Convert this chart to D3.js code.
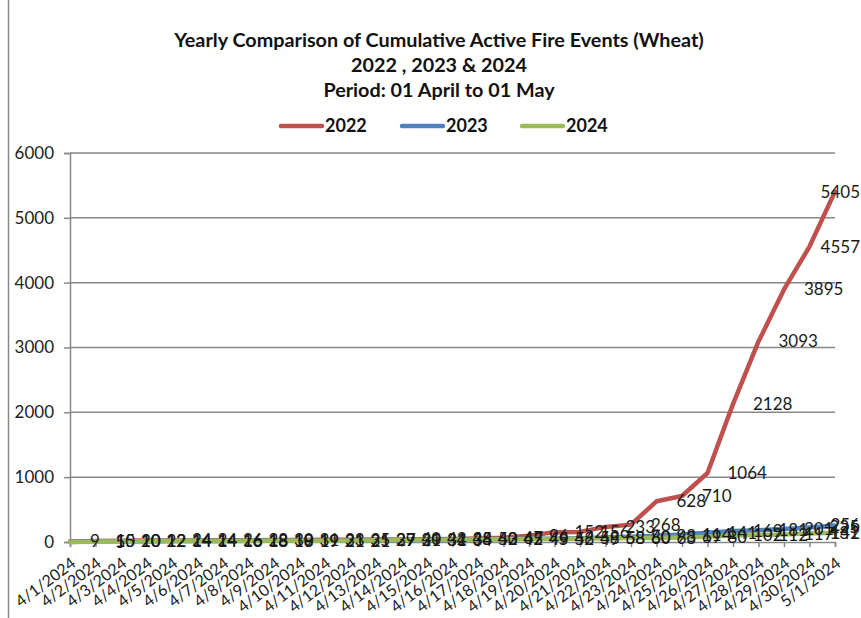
<!DOCTYPE html>
<html lang="en">
<head>
  <meta charset="UTF-8">
  <title>Cumulative Active Fire Events (Wheat)</title>
  <script src="https://d3js.org/d3.v7.min.js"></script>
  <style>
    body { margin: 0; background: #fff; }
    svg { display: block; font-family: Lato, "Open Sans", sans-serif; }
  </style>
</head>
<body>
  <svg></svg>
  <script>
    // categories
    const dates = ["4/1/2024", "4/2/2024", "4/3/2024", "4/4/2024", "4/5/2024", "4/6/2024", "4/7/2024",
      "4/8/2024", "4/9/2024", "4/10/2024", "4/11/2024", "4/12/2024", "4/13/2024", "4/14/2024",
      "4/15/2024", "4/16/2024", "4/17/2024", "4/18/2024", "4/19/2024", "4/20/2024", "4/21/2024",
      "4/22/2024", "4/23/2024", "4/24/2024", "4/25/2024", "4/26/2024", "4/27/2024", "4/28/2024",
      "4/29/2024", "4/30/2024", "5/1/2024"];

    // cumulative fire counts
    const fires2022 = [9, 15, 20, 22, 24, 24, 26, 28, 30, 31, 33, 35, 37, 40, 42, 45, 53, 67, 96,
      152, 156, 233, 268, 628, 710, 1064, 2128, 3093, 3895, 4557, 5405];
    const fires2023 = [0, 10, 10, 12, 14, 14, 16, 18, 19, 19, 21, 21, 29, 31, 34, 38, 42, 45, 49,
      52, 58, 68, 80, 98, 114, 141, 169, 181, 201, 225, 256];
    const fires2024 = [0, 5, 10, 12, 14, 14, 16, 18, 18, 19, 21, 21, 27, 29, 31, 34, 40, 42, 45,
      46, 49, 58, 60, 63, 69, 80, 102, 112, 117, 131, 142];

    const yTicks = [0, 1000, 2000, 3000, 4000, 5000, 6000];
    const seriesNames = ["2022", "2023", "2024"];
    const seriesColors = ["#C0504D", "#4F81BD", "#9BBB59"];
    const titleLines = ["Yearly Comparison of Cumulative Active Fire Events (Wheat)",
      "2022 , 2023 & 2024", "Period: 01 April to 01 May"];

    const width = 861, height = 618;
    const plot = { left: 70, right: 835, top: 153, bottom: 542 };
    const gridColor = "#888888";

    const svg = d3.select("svg")
      .attr("width", width)
      .attr("height", height);

    // chart border (left edge only is visible)
    svg.append("line")
      .attr("x1", 8.5).attr("x2", 8.5)
      .attr("y1", 0).attr("y2", height)
      .attr("stroke", gridColor).attr("stroke-width", 1.5);

    const x = d3.scalePoint()
      .domain(dates)
      .range([plot.left, plot.right]);

    const y = d3.scaleLinear()
      .domain([0, 6000])
      .range([plot.bottom, plot.top]);

    // gridlines
    svg.append("g")
      .selectAll("line")
      .data(yTicks.slice(1))
      .enter().append("line")
      .attr("x1", plot.left).attr("x2", plot.right)
      .attr("y1", d => y(d)).attr("y2", d => y(d))
      .attr("stroke", gridColor).attr("stroke-width", 1.5);

    // y axis
    const yAxis = d3.axisLeft(y)
      .tickValues(yTicks)
      .tickSize(6)
      .tickPadding(10)
      .tickFormat(d3.format("d"));

    const gy = svg.append("g")
      .attr("transform", `translate(${plot.left},0)`)
      .call(yAxis);
    gy.select(".domain").attr("stroke", gridColor).attr("stroke-width", 1.5);
    gy.selectAll(".tick line").attr("stroke", gridColor).attr("stroke-width", 1.5);
    gy.selectAll(".tick text")
      .attr("font-size", 17)
      .attr("font-family", "Lato")
      .attr("fill", "#222");

    // x axis
    const xAxis = d3.axisBottom(x).tickSize(5).tickPadding(4);
    const gx = svg.append("g")
      .attr("transform", `translate(0,${plot.bottom})`)
      .call(xAxis);
    gx.select(".domain").attr("stroke", gridColor).attr("stroke-width", 1.5);
    gx.selectAll(".tick line").attr("stroke", gridColor).attr("stroke-width", 1.5);
    gx.selectAll(".tick text")
      .attr("font-size", 16)
      .attr("font-family", "Lato")
      .attr("fill", "#222")
      .attr("text-anchor", "end")
      .attr("y", 0)
      .attr("dy", "0.35em")
      .attr("transform", "translate(3,19) rotate(-37)");

    // lines
    const series = [fires2022, fires2023, fires2024].map((vals, i) => ({
      name: seriesNames[i],
      color: seriesColors[i],
      values: vals.map((v, j) => ({ date: dates[j], v: v }))
    }));

    const line = d3.line()
      .x(d => x(d.date))
      .y(d => y(d.v));

    svg.append("g")
      .selectAll("path")
      .data(series)
      .enter().append("path")
      .attr("d", d => line(d.values))
      .attr("fill", "none")
      .attr("stroke", d => d.color)
      .attr("stroke-width", 4.5)
      .attr("stroke-linejoin", "round")
      .attr("stroke-linecap", "round");

    // data labels, to the right of each point
    const labels = svg.append("g");
    series.forEach(s => {
      s.values.filter(d => d.v > 0).forEach(d => {
        const t = labels.append("text")
          .attr("x", x(d.date) + 20)
          .attr("y", y(d.v))
          .attr("dy", "0.35em")
          .attr("font-size", 17)
          .attr("fill", "#1a1a1a")
          .text(d.v);
        const w = t.node().getComputedTextLength();
        if (x(d.date) + 20 + w > width - 1) t.attr("x", width - 1 - w);
      });
    });

    // title
    svg.append("g")
      .selectAll("text")
      .data(titleLines)
      .enter().append("text")
      .attr("x", 439)
      .attr("y", (d, i) => 47 + i * 25)
      .attr("text-anchor", "middle")
      .attr("font-size", 19.8)
      .attr("font-weight", "bold")
      .attr("fill", "#111")
      .text(d => d);

    // legend
    const legendX = [281, 402, 522];
    const legend = svg.append("g")
      .selectAll("g")
      .data(series)
      .enter().append("g")
      .attr("transform", (d, i) => `translate(${legendX[i]},126)`);
    legend.append("line")
      .attr("x1", 0).attr("x2", 41)
      .attr("stroke", d => d.color)
      .attr("stroke-width", 4.5)
      .attr("stroke-linecap", "round");
    legend.append("text")
      .attr("x", 44)
      .attr("dy", "0.35em")
      .attr("font-size", 18)
      .attr("font-weight", "bold")
      .attr("fill", "#111")
      .text(d => d.name);
  </script>
</body>
</html>
